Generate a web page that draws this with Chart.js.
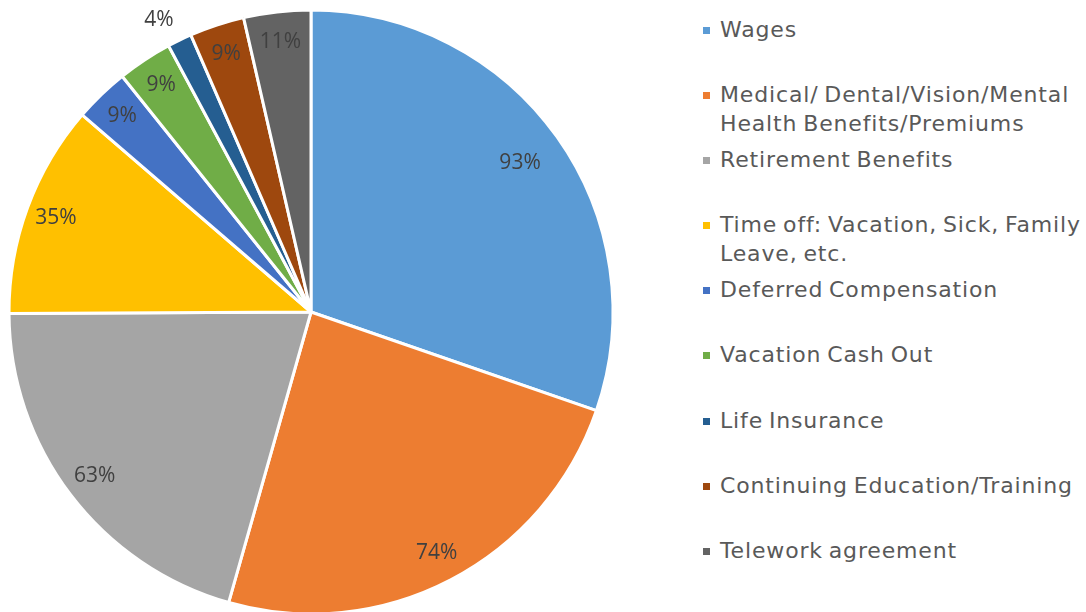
<!DOCTYPE html>
<html>
<head>
<meta charset="utf-8">
<script src="https://cdn.jsdelivr.net/npm/chart.js@4/dist/chart.umd.min.js"></script>
<style>
  html, body { margin: 0; padding: 0; background: #fff; overflow: hidden; }
  body { width: 1086px; height: 612px; position: relative; }
  #pieBox { position: absolute; left: 0; top: 0; }
  #legend { position: absolute; left: 700px; top: 15px; font-family: "DejaVu Sans", sans-serif; font-size: 22px; letter-spacing: 0.85px; word-spacing: -2px; color: #595959; }
  .item { position: relative; height: 65.1px; padding-left: 20px; line-height: 29px; white-space: nowrap; }
  .item .box { position: absolute; left: 3px; top: 12px; width: 7px; height: 7px; }
</style>
</head>
<body>
<div id="pieBox"><canvas id="myChart" width="622" height="624"></canvas></div>
<div id="legend"></div>
<script>
// datos del grafico
const categorias = [
  'Wages',
  ['Medical/ Dental/Vision/Mental', 'Health Benefits/Premiums'],
  'Retirement Benefits',
  ['Time off: Vacation, Sick, Family', 'Leave, etc.'],
  'Deferred Compensation',
  'Vacation Cash Out',
  'Life Insurance',
  'Continuing Education/Training',
  'Telework agreement'
];
const valores = [93, 74, 63, 35, 9, 9, 4, 9, 11];
const colores = ['#5B9BD5', '#ED7D31', '#A5A5A5', '#FFC000', '#4472C4', '#70AD47', '#255E91', '#9E480E', '#636363'];

// etiquetas de porcentaje dentro (o fuera) de cada porcion
const etiquetas = {
  id: 'etiquetas',
  afterDatasetsDraw(chart) {
    const ctx = chart.ctx;
    const meta = chart.getDatasetMeta(0);
    ctx.save();
    ctx.font = '21px "Open Sans", sans-serif';
    ctx.fillStyle = '#404040';
    ctx.textAlign = 'center';
    ctx.textBaseline = 'middle';
    meta.data.forEach((arc, i) => {
      const p = arc.getProps(['x', 'y', 'startAngle', 'endAngle', 'outerRadius'], true);
      const ang = p.endAngle - p.startAngle;
      let mid = (p.startAngle + p.endAngle) / 2;
      let f = 0.9;
      if (ang < 0.1) { f = 1.09; mid -= 0.03; }   // porcion chica: etiqueta afuera
      else if (ang > Math.PI / 2) f = 0.85;
      const r = p.outerRadius * f;
      ctx.fillText(valores[i] + '%', p.x + Math.cos(mid) * r, p.y + Math.sin(mid) * r);
    });
    ctx.restore();
  }
};

const ctx = document.getElementById('myChart').getContext('2d');
const myChart = new Chart(ctx, {
  type: 'pie',
  data: {
    labels: categorias.map(c => Array.isArray(c) ? c.join(' ') : c),
    datasets: [{
      data: valores,
      backgroundColor: colores,
      borderColor: '#ffffff',
      borderWidth: 3
    }]
  },
  options: {
    responsive: false,
    animation: false,
    radius: 302,
    layout: { padding: 0 },
    plugins: {
      legend: { display: false },
      tooltip: { enabled: false }
    }
  },
  plugins: [etiquetas]
});

// leyenda html
const leyenda = document.getElementById('legend');
categorias.forEach((c, i) => {
  const div = document.createElement('div');
  div.className = 'item';
  const box = document.createElement('span');
  box.className = 'box';
  box.style.background = colores[i];
  div.appendChild(box);
  const lineas = Array.isArray(c) ? c : [c];
  lineas.forEach((l, j) => {
    if (j > 0) div.appendChild(document.createElement('br'));
    div.appendChild(document.createTextNode(l));
  });
  leyenda.appendChild(div);
});
</script>
</body>
</html>
